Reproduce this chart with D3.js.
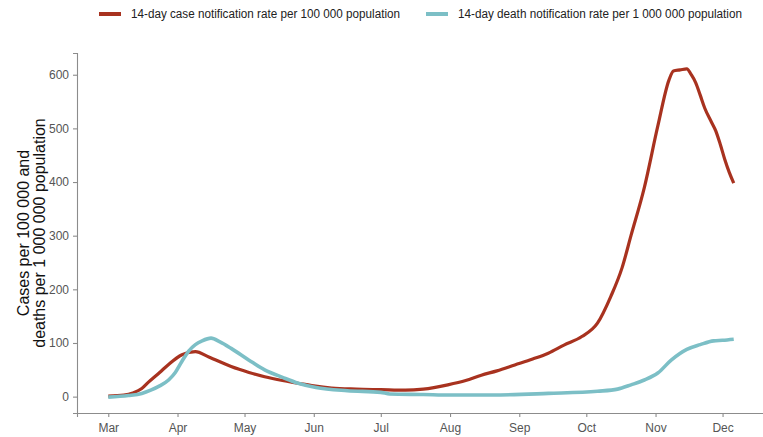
<!DOCTYPE html>
<html>
<head>
<meta charset="utf-8">
<script src="https://cdn.jsdelivr.net/npm/d3@7"></script>
<style>
  body { margin: 0; background: #fff; }
  svg { display: block; font-family: "Liberation Sans", Arial, sans-serif; }
</style>
</head>
<body>
<div id="chart"></div>
<script>
// 14-day case notification rate per 100 000
const caseDates = ["2020-03-01","2020-03-08","2020-03-12","2020-03-16","2020-03-19","2020-03-24","2020-03-28",
  "2020-04-03","2020-04-09","2020-04-15","2020-04-25","2020-05-03","2020-05-10","2020-05-18",
  "2020-05-25","2020-06-01","2020-06-09","2020-06-20","2020-07-01","2020-07-12","2020-07-20",
  "2020-07-31","2020-08-08","2020-08-15","2020-08-22","2020-08-30","2020-09-07","2020-09-14",
  "2020-09-21","2020-09-29","2020-10-06","2020-10-12","2020-10-17","2020-10-21","2020-10-27",
  "2020-11-02","2020-11-07","2020-11-09","2020-11-12","2020-11-15","2020-11-17","2020-11-19",
  "2020-11-21","2020-11-23","2020-11-26","2020-11-28","2020-11-30","2020-12-02","2020-12-04",
  "2020-12-06"];
const caseValues = [1, 3, 7, 15, 27, 45, 60,
  78, 84, 74, 56, 45, 37, 30,
  25, 20, 16, 14, 13, 12, 14,
  22, 30, 40, 48, 59, 70, 81,
  96, 112, 137, 187, 240, 300, 390,
  504, 590, 607, 609, 611, 600, 585,
  562, 538, 512, 495, 470, 442, 418,
  398];

// 14-day death notification rate per 1 000 000
const deathDates = ["2020-03-01","2020-03-10","2020-03-16","2020-03-20","2020-03-24","2020-03-28",
  "2020-03-31","2020-04-03","2020-04-06","2020-04-09","2020-04-12","2020-04-16","2020-04-20",
  "2020-04-25","2020-05-03","2020-05-10","2020-05-18","2020-05-25","2020-06-02","2020-06-16",
  "2020-07-01","2020-07-05","2020-07-20","2020-08-01","2020-08-20","2020-09-14","2020-10-06",
  "2020-10-15","2020-10-21","2020-10-27","2020-11-02","2020-11-08","2020-11-15","2020-11-21",
  "2020-11-27","2020-12-01","2020-12-06"];
const deathValues = [-1, 2, 6, 12, 20, 31,
  45, 66, 85, 97, 104, 109, 102,
  90, 68, 50, 36, 25, 17, 11,
  8, 5, 4, 3, 3, 6, 10,
  14, 22, 31, 44, 68, 88, 97,
  104, 105, 107];

const yTicks = [0, 100, 200, 300, 400, 500, 600];
const monthTicks = ["2020-03-01","2020-04-01","2020-05-01","2020-06-01","2020-07-01","2020-08-01",
  "2020-09-01","2020-10-01","2020-11-01","2020-12-01"];
const seriesNames = ["14-day case notification rate per 100 000 population",
  "14-day death notification rate per 1 000 000 population"];
const colors = ["#a8321f", "#7cbfc6"];

const width = 763;
const height = 437;
const margin = { top: 53, right: -2, bottom: 24, left: 77 };

const parse = d3.timeParse("%Y-%m-%d");
const cases = caseDates.map((d, i) => ({ date: parse(d), value: caseValues[i] }));
const deaths = deathDates.map((d, i) => ({ date: parse(d), value: deathValues[i] }));

// ggplot-like 5% expansion
const dMin = parse("2020-03-01"), dMax = parse("2020-12-06");
const pad = (dMax - dMin) * 0.05;
const x = d3.scaleTime()
  .domain([new Date(+dMin - pad), new Date(+dMax + pad)])
  .range([margin.left, width - margin.right]);

const vMax = 610;
const y = d3.scaleLinear()
  .domain([-vMax * 0.05, vMax * 1.05])
  .range([height - margin.bottom, margin.top]);

const svg = d3.select("#chart")
  .append("svg")
  .attr("width", width)
  .attr("height", height);

const line = d3.line()
  .x(d => x(d.date))
  .y(d => y(d.value))
  .curve(d3.curveMonotoneX);

svg.append("path")
  .datum(cases)
  .attr("fill", "none")
  .attr("stroke", colors[0])
  .attr("stroke-width", 3.2)
  .attr("stroke-linejoin", "round")
  .attr("d", line);

svg.append("path")
  .datum(deaths)
  .attr("fill", "none")
  .attr("stroke", colors[1])
  .attr("stroke-width", 3.6)
  .attr("stroke-linejoin", "round")
  .attr("d", line);

// x axis
const gx = svg.append("g")
  .attr("transform", `translate(0,${height - margin.bottom})`)
  .call(d3.axisBottom(x)
    .tickValues(monthTicks.map(parse))
    .tickFormat(d3.timeFormat("%b"))
    .tickSizeOuter(0)
    .tickSize(4)
    .tickPadding(6));

// y axis
const gy = svg.append("g")
  .attr("transform", `translate(${margin.left},0)`)
  .call(d3.axisLeft(y)
    .tickValues(yTicks)
    .tickSizeOuter(0)
    .tickSize(4)
    .tickPadding(4));

[gx, gy].forEach(g => {
  g.select(".domain").attr("stroke", "#8c8c8c").attr("stroke-width", 1.1);
  g.selectAll(".tick line").attr("stroke", "#8c8c8c").attr("stroke-width", 1.1);
  g.selectAll(".tick text").attr("fill", "#555").attr("font-size", 12)
    .attr("font-family", "Liberation Sans, Arial, sans-serif");
});

// y axis title
const title = svg.append("text")
  .attr("transform", `translate(31,${(margin.top + height - margin.bottom) / 2}) rotate(-90)`)
  .attr("text-anchor", "middle")
  .attr("font-size", 16)
  .attr("fill", "#111");
title.append("tspan").attr("x", 0).attr("dy", "-0.15em").text("Cases per 100 000 and");
title.append("tspan").attr("x", 0).attr("dy", "1.05em").text("deaths per 1 000 000 population");

// legend
const legendX = [99, 426];
const legendLen = [269, 284];
const legend = svg.append("g")
  .selectAll("g")
  .data(seriesNames)
  .join("g")
  .attr("transform", (d, i) => `translate(${legendX[i]},14)`);

legend.append("line")
  .attr("x1", 0).attr("x2", 22)
  .attr("stroke", (d, i) => colors[i])
  .attr("stroke-width", 4);

legend.append("text")
  .attr("x", 32)
  .attr("dy", "0.35em")
  .attr("font-size", 12.5)
  .attr("fill", "#222")
  .attr("textLength", (d, i) => legendLen[i])
  .attr("lengthAdjust", "spacingAndGlyphs")
  .text(d => d);
</script>
</body>
</html>
